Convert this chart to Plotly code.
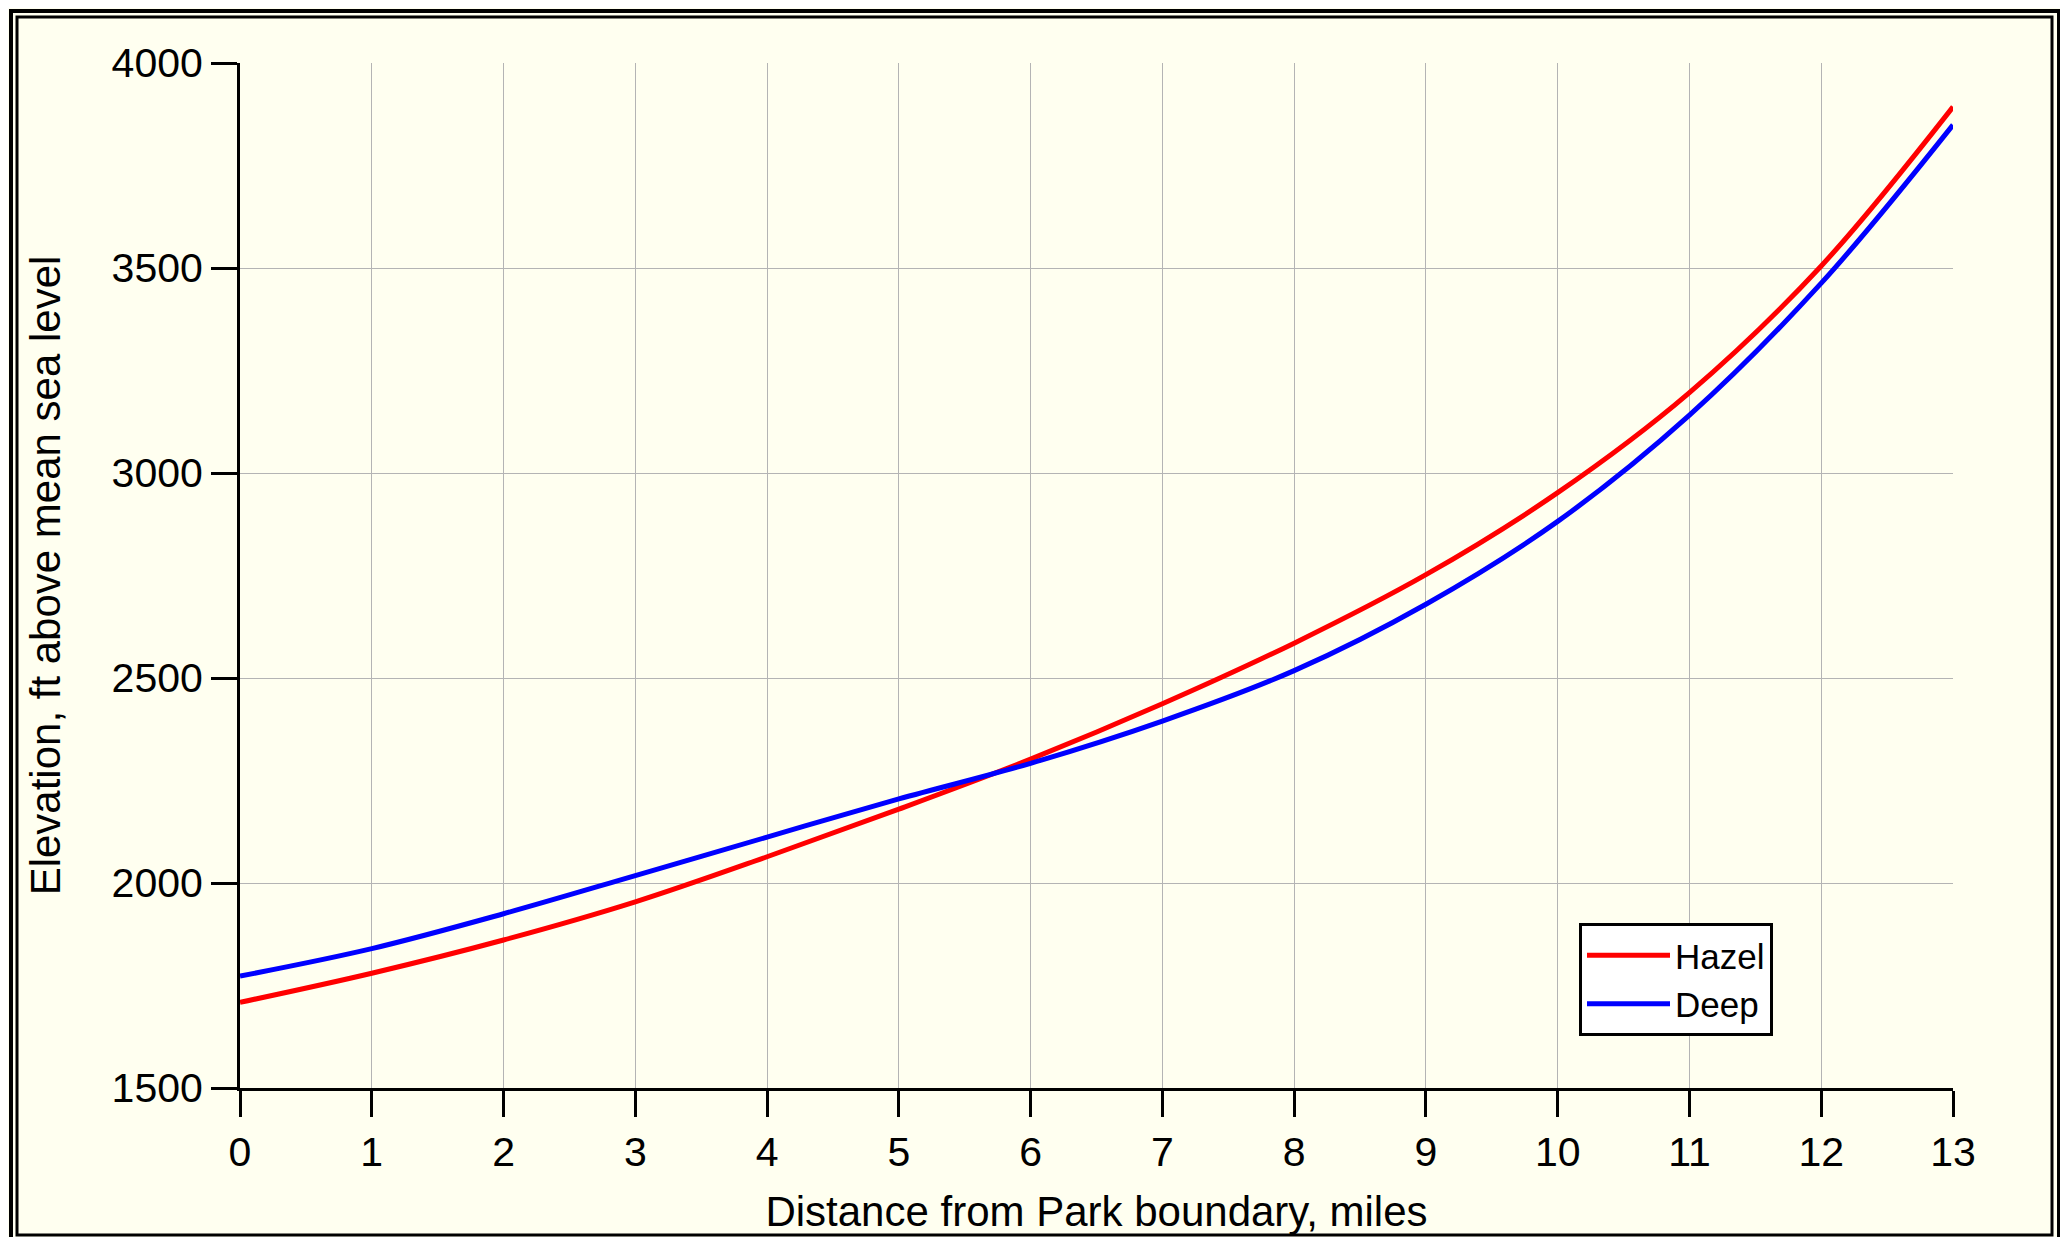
import plotly.graph_objects as go

distance_miles = [0, 1, 2, 3, 4, 5, 6, 7, 8, 9, 10, 11, 12, 13]
hazel_elev = [1709, 1780, 1861, 1954, 2064, 2180, 2302, 2437, 2585, 2752, 2952, 3196, 3505, 3893]
deep_elev = [1773, 1840, 1925, 2018, 2112, 2205, 2292, 2395, 2518, 2680, 2882, 3141, 3463, 3849]
x_ticks = list(range(0, 14))
y_ticks = [1500, 2000, 2500, 3000, 3500, 4000]

# page body has an 8px margin, so the figure is drawn 8px smaller and offset
OFF = 8
W, H = 2068 - OFF, 1237 - OFF
L, R, T, B = 240 - OFF, 1953 - OFF, 63 - OFF, 1088 - OFF
BG = "rgb(255,255,240)"
FONT = "Arial, Liberation Sans, sans-serif"

fig = go.Figure()
fig.add_trace(go.Scatter(x=distance_miles, y=hazel_elev, mode="lines", name="Hazel",
                         line=dict(color="#ff0000", width=5, shape="spline", smoothing=1.0)))
fig.add_trace(go.Scatter(x=distance_miles, y=deep_elev, mode="lines", name="Deep",
                         line=dict(color="#0000ff", width=5, shape="spline", smoothing=1.0)))


def px2x(px):
    return (px - OFF - L) / (R - L)


def px2y(py):
    return (B - (py - OFF)) / (B - T)


shapes = [
    dict(type="rect", xref="paper", yref="paper",
         x0=px2x(11), x1=px2x(2059), y0=px2y(1252), y1=px2y(11),
         line=dict(color="black", width=4), fillcolor="rgba(0,0,0,0)", layer="below"),
    dict(type="rect", xref="paper", yref="paper",
         x0=px2x(17), x1=px2x(2052), y0=px2y(1235), y1=px2y(17),
         line=dict(color="black", width=3), fillcolor="rgba(0,0,0,0)", layer="below"),
]

fig.update_layout(
    width=W, height=H,
    margin=dict(l=L, r=W - R, t=T, b=H - B, autoexpand=False),
    paper_bgcolor=BG, plot_bgcolor=BG,
    font=dict(family=FONT, size=41, color="black"),
    shapes=shapes,
    showlegend=True,
    legend=dict(x=px2x(1579), y=px2y(923), xanchor="left", yanchor="top",
                bgcolor="white", bordercolor="black", borderwidth=3,
                font=dict(size=35, family=FONT), tracegroupgap=0,
                itemwidth=83),
    xaxis=dict(range=[0, 13], tickvals=x_ticks, ticks="outside", ticklen=26, tickwidth=3,
               tickcolor="black", showline=True, linecolor="black", linewidth=3,
               showgrid=True, gridcolor="#b4b4b4", gridwidth=1, zeroline=False,
               tickfont=dict(size=41), automargin=False,
               title=dict(text="Distance from Park boundary, miles", font=dict(size=42), standoff=23)),
    yaxis=dict(range=[1500, 4000], tickvals=y_ticks, ticks="outside", ticklen=26, tickwidth=3,
               tickcolor="black", showline=True, linecolor="black", linewidth=3,
               showgrid=True, gridcolor="#b4b4b4", gridwidth=1, zeroline=False,
               tickfont=dict(size=41), automargin=False,
               title=dict(text="Elevation, ft above mean sea level", font=dict(size=42), standoff=38)),
)

fig.write_html("out.html")
